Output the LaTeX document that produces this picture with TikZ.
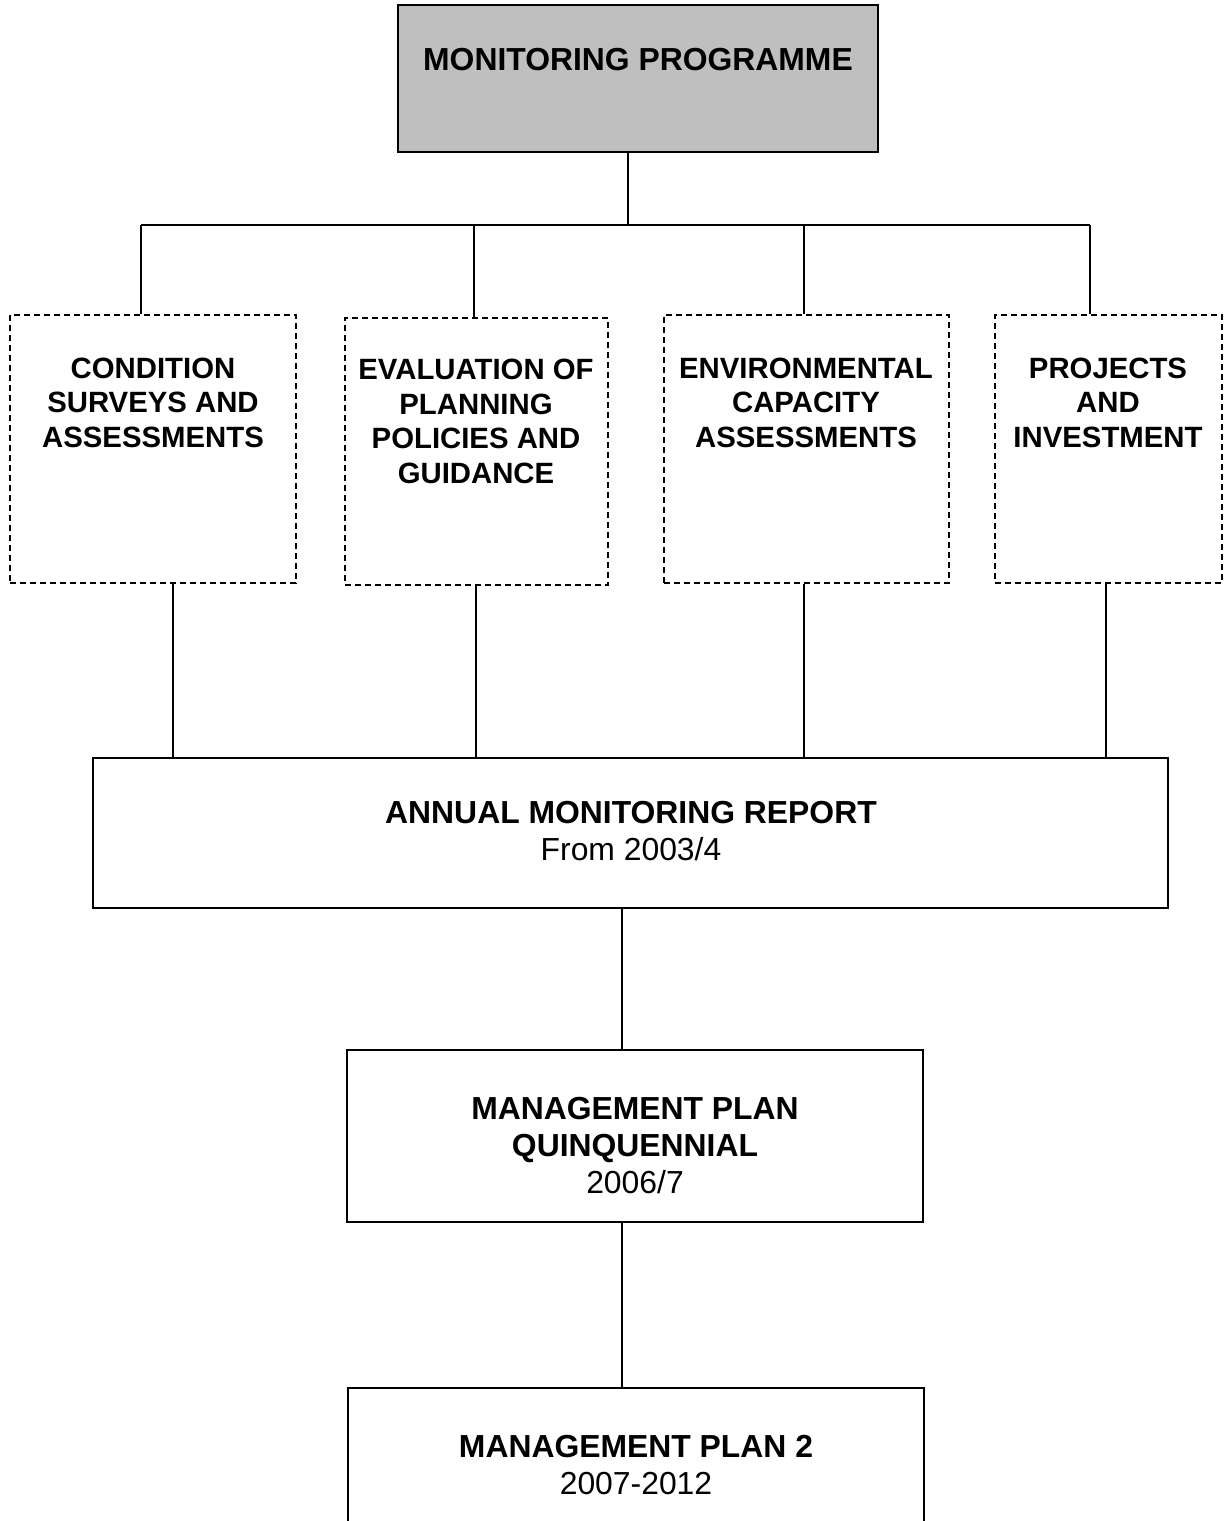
\documentclass[tikz,border=0pt]{standalone}
\usepackage{fontspec}
\setmainfont{Liberation Sans}
\definecolor{boxgray}{rgb}{0.75,0.75,0.75}
\tikzset{every picture/.style={line width=0.75pt}}
\tikzset{
  solidbox/.style={draw, line width=1.1pt, inner sep=0pt},
  dashbox/.style={draw, line width=0.8pt, dash pattern=on 4.5pt off 3pt, inner sep=0pt},
  lbl/.style={align=center, inner sep=0.75pt, font=\fontsize{23.9}{27.75}\selectfont},
  smalllbl/.style={align=center, inner sep=0.75pt, font=\fontsize{22}{25.9}\selectfont},
  link/.style={line width=1.1pt}
}
\begin{document}
\begin{tikzpicture}[x=0.75pt,y=0.75pt,yscale=-1,xscale=1]
\clip (0,0) rectangle (1228,1521);

% Shape: Rectangle
\node [solidbox, fill=boxgray, minimum width=360pt, minimum height=110.25pt] (prog) at (638,78.5) {};
% Text Node
\node [lbl] (progtxt) at (638,60) {\textbf{MONITORING PROGRAMME}};

% Shape: Dashed Rectangles
\node [dashbox, minimum width=214.5pt, minimum height=201pt] (cond) at (153,449) {};
\node [dashbox, minimum width=197.25pt, minimum height=200.25pt] (eval) at (476.5,451.5) {};
\node [dashbox, minimum width=213.75pt, minimum height=201pt] (env) at (806.5,449) {};
\node [dashbox, minimum width=170.25pt, minimum height=201pt] (proj) at (1108.5,449) {};
% Text Node
\node [smalllbl] (condtxt) at (153,402.5) {\textbf{CONDITION}\\\textbf{SURVEYS AND}\\\textbf{ASSESSMENTS}};
\node [smalllbl] (evaltxt) at (476,421.5) {\textbf{EVALUATION OF}\\\textbf{PLANNING}\\\textbf{POLICIES AND}\\\textbf{GUIDANCE}};
\node [smalllbl] (envtxt) at (806,402.5) {\textbf{ENVIRONMENTAL}\\\textbf{CAPACITY}\\\textbf{ASSESSMENTS}};
\node [smalllbl] (projtxt) at (1108,402.5) {\textbf{PROJECTS}\\\textbf{AND}\\\textbf{INVESTMENT}};

% Shape: Rectangle
\node [solidbox, minimum width=806.25pt, minimum height=112.5pt] (annual) at (630.5,833) {};
\node [lbl] (annualtxt) at (631,831.5) {\textbf{ANNUAL MONITORING REPORT}\\From 2003/4};

\node [solidbox, minimum width=432pt, minimum height=129pt] (quin) at (635,1136) {};
\node [lbl] (quintxt) at (635,1146) {\textbf{MANAGEMENT PLAN}\\\textbf{QUINQUENNIAL}\\2006/7};

\node [solidbox, minimum width=432pt, minimum height=150pt] (plan) at (636,1488) {};
\node [lbl] (plantxt) at (636,1465) {\textbf{MANAGEMENT PLAN 2}\\2007-2012};

% Straight Lines
\coordinate (hub) at (628,225);
\coordinate (barL) at (141,225);
\coordinate (barR) at (1090,225);
\draw [link] (hub |- prog.south) -- (hub);
\draw [link] (barL) -- (barR);
\foreach \b/\x in {cond/141, eval/474, env/804, proj/1090}
  \draw [link] (\x,225) coordinate (t) -- (t |- \b.north);
\foreach \b/\x in {cond/173, eval/476, env/804, proj/1106}
  \draw [link] (\x,0) coordinate (t) (t |- \b.south) -- (t |- annual.north);
\coordinate (spine) at (622,0);
\draw [link] (spine |- annual.south) -- (spine |- quin.north);
\draw [link] (spine |- quin.south) -- (spine |- plan.north);
\end{tikzpicture}
\end{document}
